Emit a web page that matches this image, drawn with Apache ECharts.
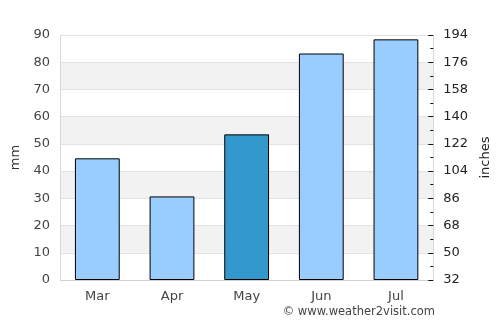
<!DOCTYPE html>
<html lang="en">
<head>
    <meta charset="UTF-8">
    <script type="text/javascript" src="https://cdn.jsdelivr.net/npm/echarts@6/dist/echarts.min.js"></script>
    <style>
        body { margin: 0; background: #fff; }
        #rainChart { width: 500px; height: 325px; }
    </style>
</head>
<body>
    <div id="rainChart"></div>
</body>

<script>
    // months
    var months = ["Mar", "Apr", "May", "Jun", "Jul"];
    // rainfall mm
    var rainMm = [44.7, 30.7, 53.5, 83.2, 88.4];
    // highlighted month (current)
    var highlightMonth = "May";
    // right axis labels
    var rightMin = 32;
    var rightMax = 194;
    var rightStep = 18;

    var chart = echarts.init(document.getElementById("rainChart"));

    var barData = [];
    for (var i = 0; i < months.length; i++) {
        barData.push({
            value: rainMm[i],
            itemStyle: { color: months[i] === highlightMonth ? "#3399cc" : "#99ccff" }
        });
    }

    var option = {
        animation: false,
        textStyle: { fontFamily: "DejaVu Sans" },
        grid: { left: 60, right: 66, top: 35, bottom: 45 },
        xAxis: {
            type: "category",
            data: months,
            axisLine: { lineStyle: { color: "#d0d0d0" } },
            axisTick: { show: false },
            axisLabel: { color: "#444", fontSize: 13, margin: 10 }
        },
        yAxis: [
            {
                type: "value",
                min: 0, max: 90, interval: 10,
                name: "mm",
                nameLocation: "middle",
                nameGap: 32,
                nameTextStyle: { color: "#333", fontSize: 13 },
                axisLine: { show: true, lineStyle: { color: "#d8d8d8" } },
                axisTick: { show: false },
                axisLabel: { color: "#444", fontSize: 13, margin: 10 },
                splitLine: { lineStyle: { color: "#e2e2e2" } },
                splitArea: { show: true, areaStyle: { color: ["#ffffff", "#f2f2f2"] } }
            },
            {
                type: "value",
                min: rightMin, max: rightMax, interval: rightStep,
                position: "right",
                name: "inches",
                nameLocation: "middle",
                nameGap: 38,
                nameTextStyle: { color: "#222", fontSize: 13 },
                axisLine: { show: true, lineStyle: { color: "#d8d8d8" } },
                axisTick: { show: true, inside: true, length: 5, lineStyle: { color: "#111" } },
                minorTick: { show: true, splitNumber: 2, length: 3, lineStyle: { color: "#111" } },
                axisLabel: { color: "#222", fontSize: 13, margin: 10 },
                splitLine: { show: false }
            }
        ],
        series: [{
            type: "bar",
            data: barData,
            barWidth: "60%",
            itemStyle: { borderColor: "#000", borderWidth: 1 }
        }],
        graphic: [{
            type: "text",
            right: 65,
            top: 306,
            style: { text: "© www.weather2visit.com", fill: "#444", font: "11.5px DejaVu Sans" }
        }]
    };
    chart.setOption(option);
</script>
</html>
